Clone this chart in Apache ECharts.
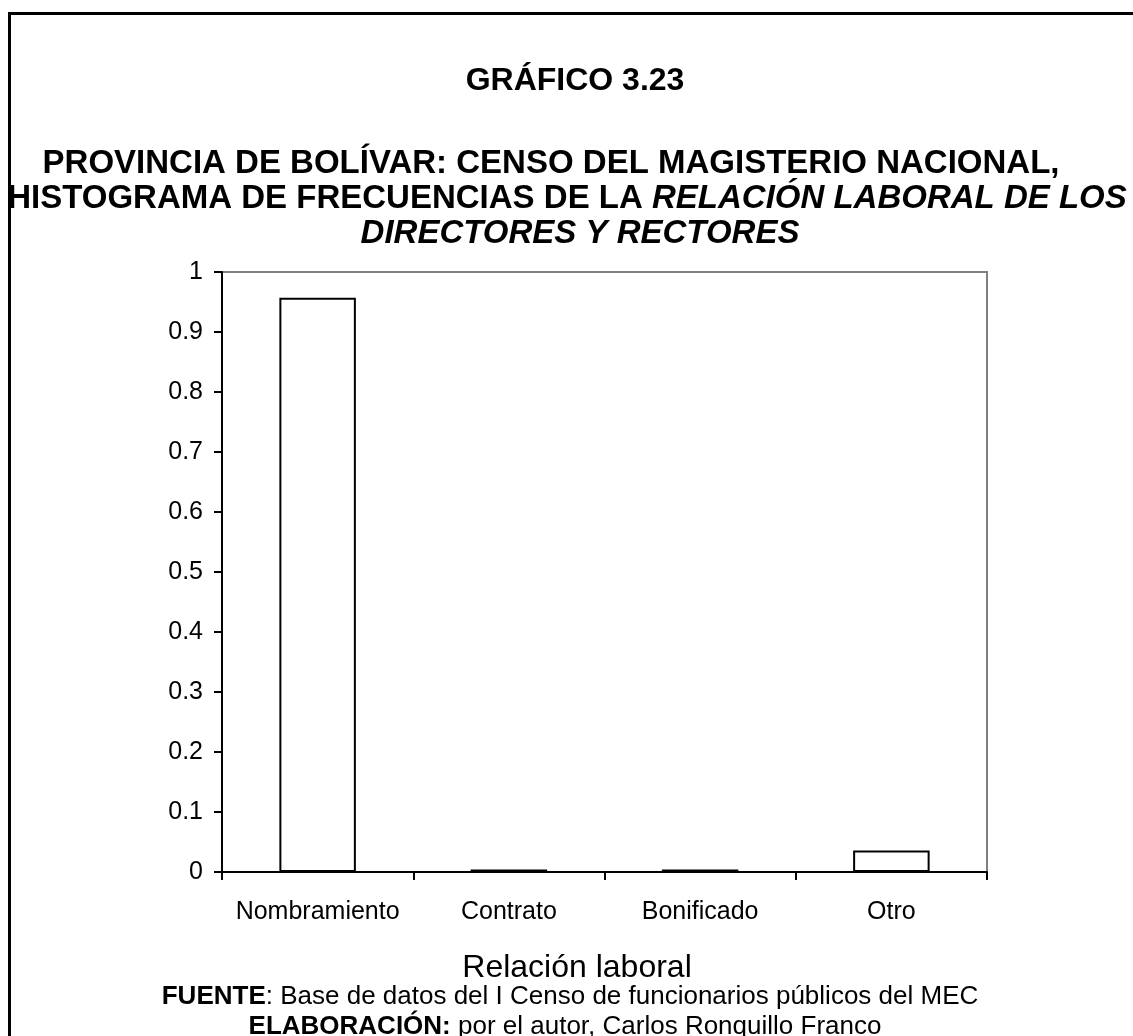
<!DOCTYPE html>
<html>
<head>
<meta charset="utf-8">
<script src="https://cdn.jsdelivr.net/npm/echarts@6/dist/echarts.min.js"></script>
<style>
html,body{margin:0;padding:0;background:#fff;}
#chart{width:1133px;height:1036px;}
</style>
</head>
<body>
<div id="chart"></div>
<script>
const categories = ['Nombramiento', 'Contrato', 'Bonificado', 'Otro'];
const frequencies = [0.957, 0.004, 0.004, 0.036];
const yTicks = [0, 0.1, 0.2, 0.3, 0.4, 0.5, 0.6, 0.7, 0.8, 0.9, 1];

const FONT = "'Liberation Sans', Arial, sans-serif";
const chart = echarts.init(document.getElementById('chart'), null, {renderer: 'canvas'});

function centeredText(x, y, text, rich) {
  return {type: 'text', x: x, y: y, silent: true,
    style: {text: text, align: 'center', verticalAlign: 'middle', rich: rich}};
}
const R_TITLE = {
  b: {fontFamily: FONT, fontSize: 33, fontWeight: 'bold', fill: '#000'},
  bi: {fontFamily: FONT, fontSize: 33, fontWeight: 'bold', fontStyle: 'italic', fill: '#000'},
  t: {fontFamily: FONT, fontSize: 32, fontWeight: 'bold', fill: '#000'}
};
const R_FOOT = {
  b: {fontFamily: FONT, fontSize: 26, fontWeight: 'bold', fill: '#000'},
  r: {fontFamily: FONT, fontSize: 26, fill: '#000'}
};

const option = {
  backgroundColor: '#ffffff',
  animation: false,
  textStyle: {fontFamily: FONT},
  grid: {
    left: 222, right: 146, top: 272, bottom: 164,
    show: true, borderColor: '#808080', borderWidth: 2, backgroundColor: '#ffffff'
  },
  xAxis: {
    type: 'category',
    data: categories,
    boundaryGap: true,
    name: 'Relación laboral',
    nameLocation: 'middle',
    nameGap: 80,
    nameTextStyle: {fontFamily: FONT, fontSize: 32, color: '#000', padding: [0, 55, 0, 0]},
    axisLine: {show: true, lineStyle: {color: '#000', width: 2}},
    axisTick: {show: true, alignWithLabel: false, length: 8, lineStyle: {color: '#000', width: 2}},
    axisLabel: {fontFamily: FONT, fontSize: 25, color: '#000', margin: 28, interval: 0},
    splitLine: {show: false}
  },
  yAxis: {
    type: 'value',
    min: 0, max: 1, interval: 0.1,
    axisLine: {show: true, lineStyle: {color: '#000', width: 2}},
    axisTick: {show: true, length: 8, lineStyle: {color: '#000', width: 2}},
    axisLabel: {fontFamily: FONT, fontSize: 25, color: '#000', margin: 19,
      formatter: function (v) {
        const t = yTicks.find(function (x) { return Math.abs(x - v) < 1e-9; });
        return t === undefined ? '' : String(t);
      }},
    splitLine: {show: false}
  },
  series: [{
    type: 'bar',
    data: frequencies,
    barWidth: '40%',
    itemStyle: {color: '#ffffff', borderColor: '#000', borderWidth: 2}
  }],
  graphic: [
    {type: 'rect', shape: {x: 9.5, y: 13.5, width: 1300, height: 1200},
     style: {fill: 'none', stroke: '#000', lineWidth: 3}, z: 100, silent: true},
    centeredText(575, 81, '{t|GRÁFICO 3.23}', R_TITLE),
    centeredText(551, 164, '{b|PROVINCIA DE BOLÍVAR: CENSO DEL MAGISTERIO NACIONAL,}', R_TITLE),
    centeredText(567, 199, '{b|HISTOGRAMA DE FRECUENCIAS DE LA }{bi|RELACIÓN LABORAL DE LOS}', R_TITLE),
    centeredText(580, 234, '{bi|DIRECTORES Y RECTORES}', R_TITLE),
    centeredText(570, 997, '{b|FUENTE}{r|: Base de datos del I Censo de funcionarios públicos del MEC}', R_FOOT),
    centeredText(565, 1027, '{b|ELABORACIÓN:}{r| por el autor, Carlos Ronquillo Franco}', R_FOOT)
  ]
};
chart.setOption(option);
</script>
</body>
</html>
